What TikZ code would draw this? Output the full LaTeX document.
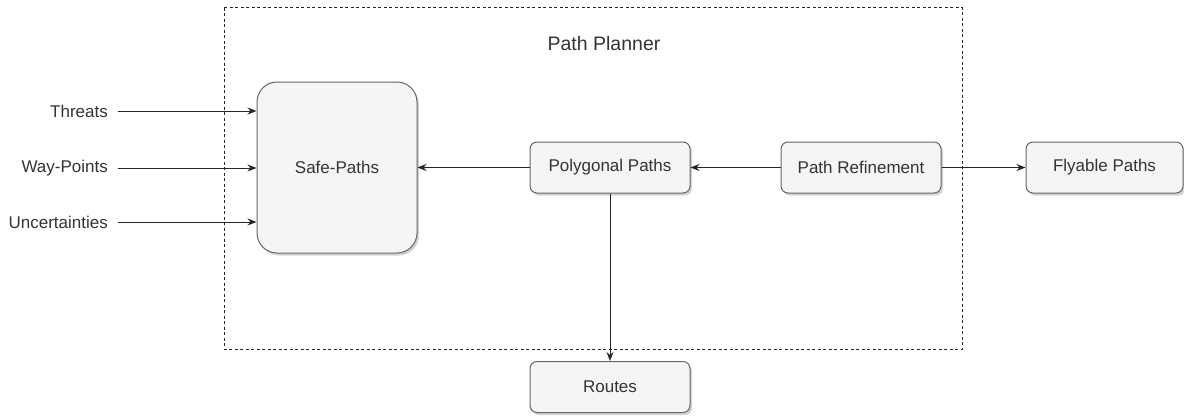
\documentclass[tikz,border=0pt]{standalone}
\usepackage{fontspec}
\setmainfont{Liberation Sans}
\usetikzlibrary{arrows.meta,shadows}
\definecolor{boxfill}{HTML}{F5F5F5}
\definecolor{boxline}{HTML}{666666}
\definecolor{txt}{HTML}{333333}
\begin{document}
\begin{tikzpicture}[x=1pt,y=-1pt,
  box/.style={draw=boxline, fill=boxfill, line width=1pt, rounded corners=7pt,
    minimum width=160pt, minimum height=51pt, inner sep=0pt, text=txt,
    font=\fontsize{17}{20}\selectfont,
    drop shadow={shadow xshift=2pt, shadow yshift=-2.5pt, opacity=0.35, fill=gray}},
  lbl/.style={anchor=east, inner xsep=10pt, inner ysep=0pt, text=txt,
    font=\fontsize{17}{20}\selectfont},
  link/.style={draw=black!85, line width=1pt, -{Stealth[length=9pt,width=7pt]}}
]
\useasboundingbox (0,0) rectangle (1184,416);

% planner frame
\draw[black!85, line width=0.9pt, dash pattern=on 3pt off 2.5pt] (224,7.5) rectangle (962,349);
\node[text=txt, font=\fontsize{19.5}{22}\selectfont] (title) at (604,44) {Path Planner};

% blocks
\node[box, minimum width=160pt, minimum height=171pt, rounded corners=20pt] (sp) at (337,167.5) {Safe-Paths};
\node[box] (pp) at (610,167.5) {Polygonal Paths};
\node[box] (pr) at (861,167.5) {Path Refinement};
\node[box, minimum width=157pt] (fp) at (1104.5,167.5) {Flyable Paths};
\node[box] (rt) at (610,387) {Routes};

% inputs
\node[lbl] (thr) at (118,111) {Threats};
\node[lbl] (wp) at (118,168) {Way-Points};
\node[lbl] (unc) at (118,222) {Uncertainties};

\draw[link] (thr.east) -- (sp.west |- thr.east);
\draw[link] (wp.east) -- (sp.west |- wp.east);
\draw[link] (unc.east) -- (sp.west |- unc.east);

% flow between blocks
\draw[link] (pp.west) -- (sp.east |- pp.west);
\draw[link] (pr.west) -- (pp.east);
\draw[link] (pr.east) -- (fp.west);
\draw[link] (pp.south) -- (rt.north);
\end{tikzpicture}
\end{document}
